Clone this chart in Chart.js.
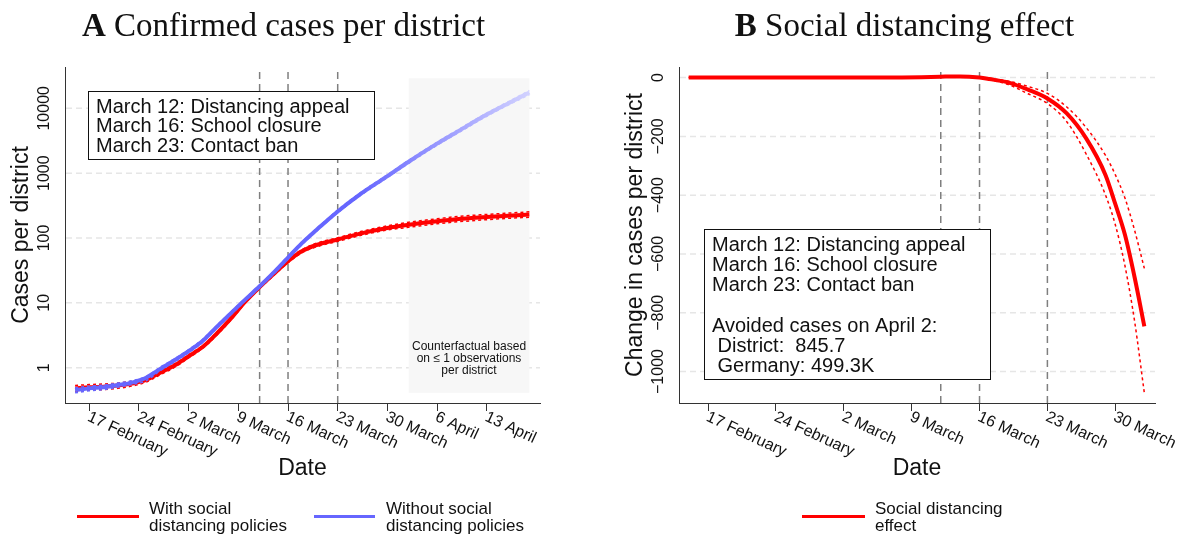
<!DOCTYPE html>
<html>
<head>
<meta charset="utf-8">
<title>Social distancing</title>
<script src="https://cdn.jsdelivr.net/npm/chart.js@4"></script>
<style>
  body { margin:0; background:#fff; }
  #wrap { position:relative; width:1188px; height:535px; overflow:hidden; font-family:"Liberation Sans", Arial, sans-serif; color:#111; }
  canvas { position:absolute; top:0; }
  .title { position:absolute; top:9px; font-family:"Liberation Serif", serif; font-size:33px; line-height:33px; white-space:nowrap; transform:translateX(-50%); color:#111; }
  .leg-line { position:absolute; height:3px; top:515px; }
  .leg-text { position:absolute; top:500px; font-size:17px; line-height:17px; white-space:nowrap; }
</style>
</head>
<body>
<div id="wrap">
  <canvas id="chartA" width="574" height="535" style="left:0"></canvas>
  <canvas id="chartB" width="574" height="535" style="left:614px"></canvas>
  <div class="title" style="left:283.5px"><b>A</b> Confirmed cases per district</div>
  <div class="title" style="left:904.5px"><b>B</b> Social distancing effect</div>
  <div class="leg-line" style="left:77px;width:62px;background:#ff0000"></div>
  <div class="leg-text" style="left:149px">With social<br>distancing policies</div>
  <div class="leg-line" style="left:314px;width:61px;background:#6666ff"></div>
  <div class="leg-text" style="left:386px">Without social<br>distancing policies</div>
  <div class="leg-line" style="left:802px;width:63px;background:#ff0000"></div>
  <div class="leg-text" style="left:875px">Social distancing<br>effect</div>
</div>
<script>
// days are counted as day of year 2020 (46 = 15 February, 93 = 2 April)
const daysA = [46,48,50,52,54,56,58,60,62,64,66,68,70,72,74,76,78,80,83,86,90,93,97,100,104,107,110];
const withPolicies    = [0.48,0.50,0.51,0.53,0.57,0.65,0.84,1.08,1.5,2.1,3.4,5.8,10.5,17.5,28,44,63,78,95,116,143,160,181,196,211,221,230];
const withUpper       = [0.53,0.55,0.56,0.58,0.62,0.70,0.90,1.15,1.58,2.2,3.55,6.1,11.1,18.3,29.5,46.5,66.5,83,101,124,154,175,198,215,231,242,253];
const withLower       = [0.43,0.45,0.46,0.48,0.52,0.60,0.78,1.01,1.42,2.0,3.2,5.5,10,16.7,26.5,41.5,59.5,73,89,108,133,146,166,178,192,201,209];
const withoutPolicies = [0.45,0.48,0.50,0.54,0.59,0.70,0.96,1.3,1.8,2.6,4.3,7.0,11.3,18,29.5,50,84,133,257,460,900,1500,2850,4450,8000,11900,17500];
const withoutUpper    = [0.49,0.52,0.54,0.58,0.63,0.73,1.02,1.37,1.9,2.75,4.5,7.35,11.8,18.8,31,52.5,88,139,270,482,945,1580,3000,4700,8450,12600,18800];
const withoutLower    = [0.41,0.44,0.46,0.50,0.55,0.63,0.90,1.23,1.7,2.47,4.1,6.65,10.8,17.2,28,47.5,80,127,245,438,855,1420,2700,4200,7550,11200,16200];

const daysB = [46,50,55,60,65,68,70,72,74,76,77,79,81,83,85,87,89,90,91,92,93];
const effect      = [0,0,0,0,0,0.5,1.5,3,4,0,-5,-17,-41,-71,-122,-207,-332,-430,-535,-680,-846];
const effectUpper = [0,0,0,0,0,1,2,3.5,4.5,1,-3,-12,-30,-54,-100,-170,-265,-330,-410,-520,-649];
const effectLower = [0,0,0,0,0,0,1,2.5,3.5,-1,-7,-24,-55,-88,-150,-260,-400,-500,-640,-830,-1073];

const tickDaysA = [48,55,62,69,76,83,90,97,104];
const tickLabelsA = ['17 February','24 February','2 March','9 March','16 March','23 March','30 March','6 April','13 April'];
const tickDaysB = [48,55,62,69,76,83,90];
const tickLabelsB = ['17 February','24 February','2 March','9 March','16 March','23 March','30 March'];
const yTicksA = [1,10,100,1000,10000];
const yTickLabelsA = ['1','10','100','1000','10000'];
const yTicksB = [0,-200,-400,-600,-800,-1000];
const yTickLabelsB = ['0','\u2212200','\u2212400','\u2212600','\u2212800','\u22121000'];

const policyDays = [72,76,83];
const policyNotes = ['March 12: Distancing appeal','March 16: School closure','March 23: Contact ban'];
const avoidedNotes = ['','Avoided cases on April 2:',' District:  845.7',' Germany: 499.3K'];
const counterfactualDays = [93,110];
const counterfactualRange = [0.41,29000];
const counterfactualNote = ['Counterfactual based','on \u2264 1 observations','per district'];
const fadeDays = [86,110];

const RED = '#ff0000', BLUE = '#6666ff', BLUE_LIGHT = '#d2d2ff';
const FONT = '"Liberation Sans", Arial, sans-serif';
Chart.defaults.font.family = FONT;
Chart.defaults.color = '#111';

function pts(days, vals){ return days.map((d,i) => ({x:d, y:vals[i]})); }

function fadeBlue(context){
  const chart = context.chart;
  if(!chart.chartArea) return BLUE;
  const xs = chart.scales.x;
  const g = chart.ctx.createLinearGradient(xs.getPixelForValue(fadeDays[0]), 0, xs.getPixelForValue(fadeDays[1]), 0);
  g.addColorStop(0, BLUE);
  g.addColorStop(1, BLUE_LIGHT);
  return g;
}

function line(data, color, width, dashed, order){
  return {
    data, borderColor: color, borderWidth: width, borderDash: dashed ? [3,3] : [],
    pointRadius: 0, fill: false, cubicInterpolationMode: 'monotone', order
  };
}

function drawBox(ctx, x, y, w, h, lines, lh){
  ctx.save();
  ctx.setLineDash([]);
  ctx.fillStyle = '#fff';
  ctx.fillRect(x, y, w, h);
  ctx.strokeStyle = '#111';
  ctx.lineWidth = 1;
  ctx.strokeRect(x + 0.5, y + 0.5, w, h);
  ctx.fillStyle = '#111';
  ctx.font = '20px ' + FONT;
  ctx.textBaseline = 'middle';
  ctx.textAlign = 'left';
  lines.forEach((t, i) => ctx.fillText(t, x + 8, y + 16 + i * lh));
  ctx.restore();
}

function decor(o){
  return {
    id: 'decor',
    beforeDatasetsDraw(chart){
      const {ctx, chartArea: a, scales: {x, y}} = chart;
      ctx.save();
      // light dashed gridlines
      ctx.strokeStyle = '#e6e6e6';
      ctx.lineWidth = 1.5;
      ctx.setLineDash([6,4]);
      y.ticks.forEach(t => {
        const py = y.getPixelForValue(t.value);
        ctx.beginPath(); ctx.moveTo(a.left + 1, py); ctx.lineTo(a.right, py); ctx.stroke();
      });
      // counterfactual period
      if(o.shade){
        const x0 = x.getPixelForValue(counterfactualDays[0]), x1 = x.getPixelForValue(counterfactualDays[1]);
        const y0 = y.getPixelForValue(counterfactualRange[1]), y1 = y.getPixelForValue(counterfactualRange[0]);
        ctx.fillStyle = '#f7f7f7';
        ctx.fillRect(x0, y0, x1 - x0, y1 - y0);
        ctx.fillStyle = '#111';
        ctx.font = '12px ' + FONT;
        ctx.textAlign = 'center';
        ctx.textBaseline = 'middle';
        counterfactualNote.forEach((t, i) => ctx.fillText(t, (x0 + x1) / 2, y1 - 46 + i * 12));
      }
      // policy dates
      ctx.strokeStyle = '#7f7f7f';
      ctx.lineWidth = 1.5;
      ctx.setLineDash([7,5]);
      policyDays.forEach(d => {
        const px = x.getPixelForValue(d);
        ctx.beginPath(); ctx.moveTo(px, a.top + 5); ctx.lineTo(px, a.bottom); ctx.stroke();
      });
      ctx.restore();
    },
    afterDatasetsDraw(chart){
      const {ctx, chartArea: a} = chart;
      drawBox(ctx, a.left + o.box[0], a.top + o.box[1], o.box[2], o.box[3], o.notes, o.lh);
    },
    afterDraw(chart){
      const {ctx, chartArea: a, scales: {x, y}} = chart;
      ctx.save();
      ctx.fillStyle = '#111';
      ctx.font = '16px ' + FONT;
      // y tick labels, vertical
      ctx.textAlign = 'center';
      ctx.textBaseline = 'alphabetic';
      y.ticks.forEach((t, i) => {
        ctx.save();
        ctx.translate(a.left - 16, y.getPixelForValue(t.value));
        ctx.rotate(-Math.PI / 2);
        ctx.fillText(o.yLabels[i], 0, 0);
        ctx.restore();
      });
      // x tick labels, slanted
      ctx.textAlign = 'left';
      ctx.textBaseline = 'top';
      x.ticks.forEach((t, i) => {
        ctx.save();
        ctx.translate(x.getPixelForValue(t.value) + 2.5, a.bottom + 6);
        ctx.rotate(25 * Math.PI / 180);
        ctx.fillText(o.xLabels[i], 0, 0);
        ctx.restore();
      });
      ctx.restore();
    }
  };
}

function axes(xMin, xMax, xTicks, yType, yMin, yMax, yTicks, yTitle){
  const border = {display: true, color: '#333', width: 1};
  return {
    x: {
      type: 'linear', min: xMin, max: xMax,
      afterBuildTicks: s => { s.ticks = xTicks.map(v => ({value: v})); },
      afterFit: s => { s.height = 83; },
      ticks: {display: false},
      grid: {drawOnChartArea: false, tickLength: 8, tickColor: '#333', tickWidth: 1},
      border,
      title: {display: true, text: 'Date', font: {size: 23}, color: '#111', padding: {top: 4, bottom: 4}}
    },
    y: {
      type: yType, min: yMin, max: yMax,
      afterBuildTicks: s => { s.ticks = yTicks.map(v => ({value: v})); },
      afterFit: s => { s.width = 61; },
      ticks: {display: false},
      grid: {display: true, drawOnChartArea: false, drawTicks: false},
      border,
      title: {display: true, text: yTitle, font: {size: 23}, color: '#111', padding: {top: 4, bottom: 4}}
    }
  };
}

const baseOptions = {
  responsive: false, animation: false, events: [],
  plugins: {legend: {display: false}, tooltip: {enabled: false}}
};

new Chart(document.getElementById('chartA'), {
  type: 'line',
  data: {datasets: [
    line(pts(daysA, withoutPolicies), fadeBlue, 4, false, 0),
    line(pts(daysA, withoutUpper), fadeBlue, 1.5, true, 1),
    line(pts(daysA, withoutLower), fadeBlue, 1.5, true, 1),
    line(pts(daysA, withPolicies), RED, 4, false, 2),
    line(pts(daysA, withUpper), RED, 1.5, true, 3),
    line(pts(daysA, withLower), RED, 1.5, true, 3)
  ]},
  options: Object.assign({}, baseOptions, {
    layout: {padding: {left: 4, top: 67, right: 34, bottom: 49}},
    scales: axes(44.58, 111.5, tickDaysA, 'logarithmic', 0.2856, 43350, yTicksA, 'Cases per district')
  }),
  plugins: [decor({shade: true, box: [23, 24, 286, 68], notes: policyNotes, lh: 19.5, xLabels: tickLabelsA, yLabels: yTickLabelsA})]
});

new Chart(document.getElementById('chartB'), {
  type: 'line',
  data: {datasets: [
    line(pts(daysB, effect), RED, 4, false, 0),
    line(pts(daysB, effectUpper), RED, 1.5, true, 1),
    line(pts(daysB, effectLower), RED, 1.5, true, 1)
  ]},
  options: Object.assign({}, baseOptions, {
    layout: {padding: {left: 4, top: 67, right: 33, bottom: 49}},
    scales: axes(45.0, 94.1, tickDaysB, 'linear', -1107, 36, yTicksB, 'Change in cases per district')
  }),
  plugins: [decor({shade: false, box: [25, 162, 286, 150], notes: policyNotes.concat(avoidedNotes), lh: 20.3, xLabels: tickLabelsB, yLabels: yTickLabelsB})]
});
</script>
</body>
</html>
